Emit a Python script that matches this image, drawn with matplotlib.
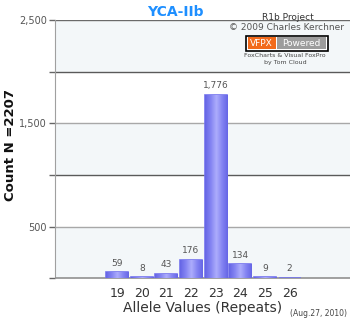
import numpy as np
import matplotlib
matplotlib.use("Agg")
import matplotlib.pyplot as plt
from matplotlib.patches import Rectangle
from matplotlib.colors import LinearSegmentedColormap

# ---- data ----
alleles = [19, 20, 21, 22, 23, 24, 25, 26]
counts = [59, 8, 43, 176, 1776, 134, 9, 2]
count_labels = ["59", "8", "43", "176", "1,776", "134", "9", "2"]
y_ticks = [0, 500, 1000, 1500, 2000, 2500]
y_tick_labels = ["", "500", "", "1,500", "", "2,500"]
title = "YCA-IIb"
y_title = "Count N =2207"
x_title = "Allele Values (Repeats)"
date_note = "(Aug.27, 2010)"

W, H = 350, 320
fig = plt.figure(figsize=(W / 100, H / 100), dpi=100)
fig.patch.set_facecolor("white")

def fx(px):
    return px / W

def fy(py):
    return 1 - py / H

ax = fig.add_axes([fx(55.5), fy(278.3), fx(350) - fx(55.5), fy(20) - fy(278.3)])
ax.set_facecolor("white")

# background bands
band = "#f3f7f9"
for lo in (0, 1000, 2000):
    ax.axhspan(lo, lo + 500, color=band, zorder=0, lw=0)

# gridlines
for t, lab in zip(y_ticks[1:], y_tick_labels[1:]):
    col = "#a8a8a8" if lab else "#5a5a5a"
    if t == 2500:
        col = "#6a6a6a"
    ax.axhline(t, color=col, lw=1.0, zorder=1)

# bars with cylindrical gradient
width = 0.9
bars = ax.bar(alleles, counts, width=width, color="#7a7af0", zorder=3,
              edgecolor="#7474ee", linewidth=1.2)
cmap = LinearSegmentedColormap.from_list(
    "cyl", ["#6666e6", "#8484f2", "#adadfc", "#8484f2", "#6666e6"])
grad = np.linspace(0, 1, 64).reshape(1, -1)
for b in bars:
    x0 = b.get_x()
    h = b.get_height()
    im = ax.imshow(grad, cmap=cmap, aspect="auto",
                   extent=[x0, x0 + b.get_width(), 0, h], zorder=3.1)
    im.set_clip_path(b)

for a, c, lab in zip(alleles, counts, count_labels):
    ax.text(a, c + 45, lab, ha="center", va="bottom", fontsize=6.5,
            color="#555555", zorder=4)

ax.set_xlim(16.5, 28.45)
ax.set_ylim(0, 2500)
ax.set_yticks(y_ticks)
ax.set_yticklabels(y_tick_labels)
ax.set_xticks(alleles)
ax.set_xticklabels([str(a) for a in alleles])
ax.tick_params(axis="y", length=4, width=1, color="#666666",
               labelsize=7, labelcolor="#555555", pad=2)
ax.tick_params(axis="x", length=0, labelsize=9, labelcolor="#333333", pad=6)

for s in ("top", "right"):
    ax.spines[s].set_visible(False)
ax.spines["left"].set_color("#a0a0a0")
ax.spines["bottom"].set_color("#909090")
ax.spines["bottom"].set_linewidth(1.2)
ax.spines["bottom"].set_zorder(2.5)

ax.set_xlabel(x_title, fontsize=10, color="#333333", labelpad=1)

# y title
fig.text(fx(11), fy(145), y_title, ha="center", va="center", rotation=90,
         fontsize=9.5, fontweight="bold", color="#111111")

# title
fig.text(fx(175), fy(12), title, ha="center", va="center", fontsize=10,
         fontweight="bold", color="#1e8fff")

# date note
fig.text(fx(347), fy(313), date_note, ha="right", va="center",
         fontsize=5.5, color="#444444")

# top-right credits
fig.text(fx(288), fy(17), "R1b Project", ha="center", va="center",
         fontsize=6.5, color="#333333")
fig.text(fx(344), fy(28), "\u00a9 2009 Charles Kerchner", ha="right",
         va="center", fontsize=6.5, color="#555555")

# badge
def frect(x0, y0, x1, y1, **kw):
    r = Rectangle((fx(x0), fy(y1)), fx(x1) - fx(x0), fy(y0) - fy(y1),
                  transform=fig.transFigure, **kw)
    fig.patches.append(r)

frect(245.5, 35.5, 327.5, 50.5, facecolor="white", edgecolor="black", lw=1.2)
frect(247.5, 37.5, 275.5, 48.5, facecolor="#f26a1b", edgecolor="none")
frect(277, 37.5, 325.5, 48.5, facecolor="#9c9c9c", edgecolor="none")
fig.text(fx(261.5), fy(43), "VFPX", ha="center", va="center",
         fontsize=6.5, color="white")
fig.text(fx(301), fy(43), "Powered", ha="center", va="center",
         fontsize=6.5, color="white")
fig.text(fx(285), fy(55.5), "FoxCharts & Visual FoxPro", ha="center",
         va="center", fontsize=4.5, color="#444444")
fig.text(fx(285), fy(62.5), "by Tom Cloud", ha="center", va="center",
         fontsize=4.5, color="#444444")

fig.savefig("out.png", dpi=100, facecolor="white")
